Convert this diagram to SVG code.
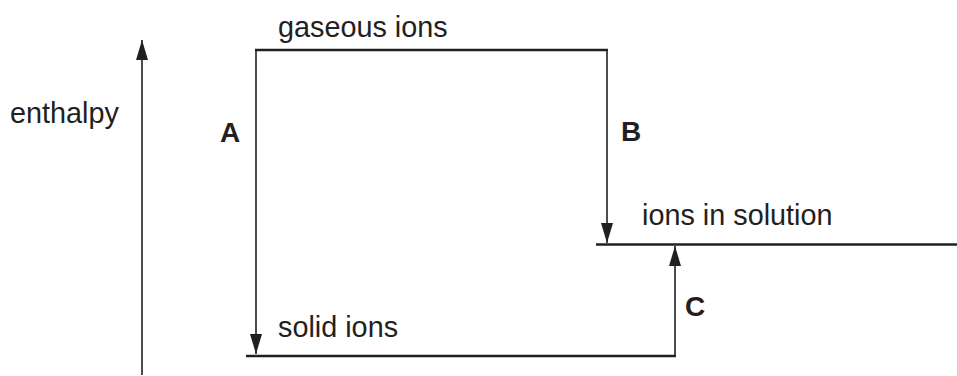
<svg xmlns="http://www.w3.org/2000/svg" width="957" height="376" viewBox="0 0 957 376">
<style>
text{font-family:"Liberation Sans",Arial,sans-serif;font-size:28.8px;fill:#231f20}
.b{font-weight:bold;font-size:28px}
.lvl{stroke:#231f20;stroke-width:2.6;fill:none}
.arr{stroke:#231f20;stroke-width:1.6;fill:none}
</style>
<defs>
<marker id="ah" markerUnits="userSpaceOnUse" markerWidth="22" markerHeight="14" viewBox="0 0 22 14" refX="21" refY="7" orient="auto">
<path d="M21,7 L1,1 L1,13 Z" fill="#231f20"/>
</marker>
</defs>
<g id="axis">
<line class="arr" x1="142" y1="375" x2="142" y2="40" marker-end="url(#ah)"/>
<text x="10" y="123">enthalpy</text>
</g>
<g id="gaseous">
<line class="lvl" x1="255" y1="50" x2="608" y2="50"/>
<text x="278" y="37">gaseous ions</text>
</g>
<g id="solution">
<line class="lvl" x1="596" y1="244.5" x2="957" y2="244.5"/>
<text x="642" y="225">ions in solution</text>
</g>
<g id="solid">
<line class="lvl" x1="246" y1="356" x2="676" y2="356"/>
<text x="278" y="337">solid ions</text>
</g>
<g id="connectors">
<line class="arr" x1="256" y1="49" x2="256" y2="354" marker-end="url(#ah)"/>
<line class="arr" x1="607" y1="49" x2="607" y2="243" marker-end="url(#ah)"/>
<line class="arr" x1="675" y1="357" x2="675" y2="246" marker-end="url(#ah)"/>
<text class="b" x="220" y="142">A</text>
<text class="b" x="621" y="141">B</text>
<text class="b" x="685" y="316">C</text>
</g>
</svg>
